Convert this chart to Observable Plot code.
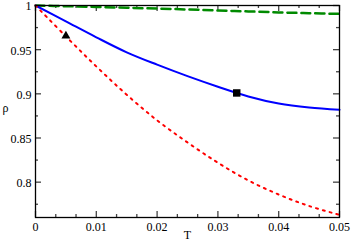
<!DOCTYPE html>
<html>
<head>
<meta charset="utf-8">
<script src="https://cdn.jsdelivr.net/npm/d3@7"></script>
<script src="https://cdn.jsdelivr.net/npm/@observablehq/plot@0.6"></script>
<style>
  html, body { margin: 0; padding: 0; background: white; }
  svg text { font-family: 'Liberation Serif', 'DejaVu Serif', serif !important; }
</style>
</head>
<body>
<script>
// Temperature samples
const T = [0, 0.005, 0.01, 0.015, 0.02, 0.025, 0.03, 0.035, 0.04, 0.045, 0.05];
// Series values
const rhoDashed = [1.0, 0.9992, 0.9984, 0.9975, 0.9965, 0.9955, 0.9944, 0.9933, 0.9922, 0.9913, 0.9905];
const rhoSolid  = [1.0, 0.982, 0.964, 0.947, 0.933, 0.920, 0.908, 0.897, 0.889, 0.8845, 0.882];
const rhoDotted = [1.0, 0.965, 0.931, 0.899, 0.870, 0.845, 0.822, 0.802, 0.786, 0.773, 0.763];
// Marker points
const triangleT = [0.005], triangleRho = [0.9655];
const squareT = [0.0331], squareRho = [0.901];
// Ticks
const xTicks = [0, 0.01, 0.02, 0.03, 0.04, 0.05];
const xTickLabels = ["0", "0.01", "0.02", "0.03", "0.04", "0.05"];
const xMinor = [0.01/3, 0.02/3, 0.04/3, 0.05/3, 0.07/3, 0.08/3, 0.10/3, 0.11/3, 0.13/3, 0.14/3];
const yTicks = [0.8, 0.85, 0.9, 0.95, 1];
const yTickLabels = ["0.8", "0.85", "0.9", "0.95", "1"];
const yMinor = [0.775, 0.825, 0.875, 0.925, 0.975];

const W = 351, H = 242;
const mL = 35, mR = 12, mT = 5, mB = 25;
const pw = W - mL - mR, ph = H - mT - mB;
const serif = "'Liberation Serif', 'DejaVu Serif', serif";
const tickColor = "#444";
const majorLen = 6, minorLen = 3;

const line = (ys) => T.map((t, i) => ({T: t, rho: ys[i]}));

const chart = Plot.plot({
  width: W,
  height: H,
  marginLeft: mL,
  marginRight: mR,
  marginTop: mT,
  marginBottom: mB,
  style: {fontFamily: serif, fontSize: "12px", background: "white", color: "black"},
  x: {domain: [0, 0.05]},
  y: {domain: [0.76, 1]},
  marks: [
    // inward ticks on all four sides
    Plot.tickX(xTicks, {x: d => d, stroke: tickColor, strokeWidth: 1.3, insetTop: ph - majorLen}),
    Plot.tickX(xTicks, {x: d => d, stroke: tickColor, strokeWidth: 1.3, insetBottom: ph - majorLen}),
    Plot.tickX(xMinor, {x: d => d, stroke: tickColor, strokeWidth: 1.3, insetTop: ph - minorLen}),
    Plot.tickX(xMinor, {x: d => d, stroke: tickColor, strokeWidth: 1.3, insetBottom: ph - minorLen}),
    Plot.tickY(yTicks, {y: d => d, stroke: tickColor, strokeWidth: 1.3, insetRight: pw - majorLen}),
    Plot.tickY(yTicks, {y: d => d, stroke: tickColor, strokeWidth: 1.3, insetLeft: pw - majorLen}),
    Plot.tickY(yMinor, {y: d => d, stroke: tickColor, strokeWidth: 1.3, insetRight: pw - minorLen}),
    Plot.tickY(yMinor, {y: d => d, stroke: tickColor, strokeWidth: 1.3, insetLeft: pw - minorLen}),
    // curves and markers
    Plot.line(line(rhoDashed), {x: "T", y: "rho", stroke: "#008a00", strokeWidth: 2.5, strokeDasharray: "9,5", curve: "catmull-rom"}),
    Plot.line(line(rhoSolid), {x: "T", y: "rho", stroke: "#0000ff", strokeWidth: 2, curve: "catmull-rom"}),
    Plot.line(line(rhoDotted), {x: "T", y: "rho", stroke: "#ff0000", strokeWidth: 2, strokeDasharray: "2,5", curve: "catmull-rom"}),
    Plot.dot(triangleT.map((t, i) => ({T: t, rho: triangleRho[i]})), {x: "T", y: "rho", symbol: "triangle", r: 3.3, fill: "black", stroke: "none"}),
    Plot.dot(squareT.map((t, i) => ({T: t, rho: squareRho[i]})), {x: "T", y: "rho", symbol: "square", r: 4.2, fill: "black", stroke: "none"}),
    // tick labels
    Plot.axisX(xTicks, {anchor: "bottom", tickSize: 0, tickPadding: 5, tickFormat: (d, i) => xTickLabels[i], label: null, fontSize: 12, fontFamily: serif}),
    Plot.axisY(yTicks, {anchor: "left", tickSize: 0, tickPadding: 4, dy: 1, tickFormat: (d, i) => yTickLabels[i], label: null, fontSize: 12, fontFamily: serif}),
    Plot.frame({stroke: "black", strokeWidth: 1.3}),
    Plot.text(["T"], {frameAnchor: "bottom", dy: 18, fontSize: 12, fontFamily: serif, lineAnchor: "middle"}),
    Plot.text(["ρ"], {frameAnchor: "left", dx: -30, dy: -3, fontSize: 12, fontFamily: serif, textAnchor: "middle", lineAnchor: "middle"})
  ]
});
document.body.appendChild(chart);
</script>
</body>
</html>
